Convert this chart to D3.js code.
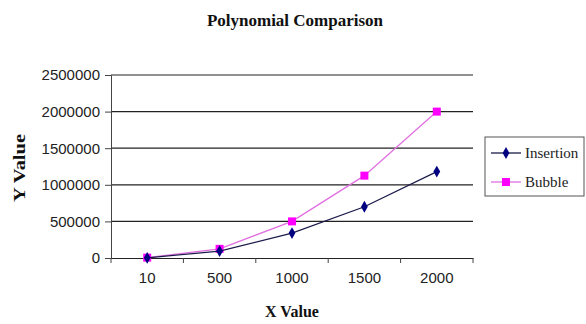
<!DOCTYPE html>
<html lang="en">
<head>
    <meta charset='utf-8'>
    <title>Polynomial Comparison</title>
    <style>
        body{
            margin: 0;
            background: #fff;
        }
        .tick text {
            font-family: "Liberation Sans", Arial, sans-serif;
            font-size: 15px;
            fill: #222;
        }
        .ttl {
            font-family: "Liberation Serif", "Times New Roman", serif;
            font-weight: bold;
            fill: #111;
        }
    </style>
</head>
<body>
<div id="chart"></div>
<script src='https://cdn.jsdelivr.net/npm/d3@7/dist/d3.min.js'></script>
<script>
    var width = 586, height = 324;

    // data
    var categories = ["10", "500", "1000", "1500", "2000"];
    var insertion = [2000, 95000, 340000, 700000, 1180000];
    var bubble = [5000, 125000, 500000, 1125000, 2000000];
    var yTicks = [0, 500000, 1000000, 1500000, 2000000, 2500000];
    var seriesNames = ["Insertion", "Bubble"];
    var colors = ["#000080", "#ff00ff"];

    var plotL = 111, plotR = 473, plotT = 75, plotB = 258;

    var svg = d3.select("#chart").append("svg")
        .attr("width", width).attr("height", height);

    var x = d3.scaleBand().domain(categories).range([plotL, plotR]);
    var y = d3.scaleLinear().domain([0, 2500000]).range([plotB, plotT]);

    // gridlines
    svg.append("g")
        .selectAll("line")
        .data(yTicks.slice(1)).enter()
        .append("line")
        .attr("x1", plotL).attr("x2", plotR)
        .attr("y1", function(d){ return y(d); })
        .attr("y2", function(d){ return y(d); })
        .attr("stroke", "#222")
        .attr("stroke-width", 1.2);

    // y axis
    var yAxis = svg.append("g")
        .attr("transform", "translate(" + plotL + ",0)")
        .call(d3.axisLeft(y).tickValues(yTicks).tickFormat(d3.format("d")).tickSize(6).tickPadding(5));
    yAxis.select(".domain").attr("stroke", "#444");
    yAxis.selectAll(".tick line").attr("stroke", "#444");

    // x axis, ticks between categories
    var xAxis = svg.append("g")
        .attr("transform", "translate(0," + plotB + ")")
        .call(d3.axisBottom(x).tickSize(0).tickPadding(14));
    xAxis.select(".domain").attr("stroke", "#222").attr("stroke-width", 1.2);
    xAxis.selectAll(".sep")
        .data(d3.range(categories.length + 1)).enter()
        .append("line")
        .attr("class", "sep")
        .attr("x1", function(i){ return plotL + i * x.bandwidth(); })
        .attr("x2", function(i){ return plotL + i * x.bandwidth(); })
        .attr("y1", 0).attr("y2", 5)
        .attr("stroke", "#444");

    function cx(d, i){ return x(categories[i]) + x.bandwidth() / 2; }

    var line = d3.line()
        .x(function(d, i){ return cx(d, i); })
        .y(function(d){ return y(d); });

    // bubble series
    svg.append("path")
        .datum(bubble)
        .attr("d", line)
        .attr("fill", "none")
        .attr("stroke", "#e070e0")
        .attr("stroke-width", 1.3);
    svg.selectAll(".bub")
        .data(bubble).enter()
        .append("rect")
        .attr("class", "bub")
        .attr("x", function(d, i){ return cx(d, i) - 4; })
        .attr("y", function(d){ return y(d) - 4; })
        .attr("width", 8).attr("height", 8)
        .attr("fill", colors[1]);

    // insertion series
    svg.append("path")
        .datum(insertion)
        .attr("d", line)
        .attr("fill", "none")
        .attr("stroke", "#1a1a4a")
        .attr("stroke-width", 1.2);
    var diamond = d3.symbol().type(d3.symbolDiamond).size(40);
    svg.selectAll(".ins")
        .data(insertion).enter()
        .append("path")
        .attr("class", "ins")
        .attr("d", diamond)
        .attr("transform", function(d, i){ return "translate(" + cx(d, i) + "," + y(d) + ")"; })
        .attr("fill", colors[0]);

    // titles
    svg.append("text")
        .attr("class", "ttl")
        .attr("x", 295).attr("y", 26)
        .attr("text-anchor", "middle")
        .style("font-size", "17px")
        .text("Polynomial Comparison");
    svg.append("text")
        .attr("class", "ttl")
        .attr("x", 292).attr("y", 317)
        .attr("text-anchor", "middle")
        .style("font-size", "16px")
        .text("X Value");
    svg.append("text")
        .attr("class", "ttl")
        .attr("transform", "translate(25,168) rotate(-90)")
        .attr("text-anchor", "middle")
        .attr("textLength", 68)
        .attr("lengthAdjust", "spacingAndGlyphs")
        .style("font-size", "16px")
        .text("Y Value");

    // legend
    var legend = svg.append("g").attr("transform", "translate(485,137)");
    legend.append("rect")
        .attr("width", 99).attr("height", 59)
        .attr("fill", "#fff")
        .attr("stroke", "#555");
    var items = legend.selectAll(".item")
        .data(seriesNames).enter()
        .append("g")
        .attr("class", "item")
        .attr("transform", function(d, i){ return "translate(0," + (16 + i * 29) + ")"; });
    items.append("line")
        .attr("x1", 6).attr("x2", 36)
        .attr("stroke", function(d, i){ return i === 0 ? "#1a1a4a" : "#e070e0"; })
        .attr("stroke-width", 1.3);
    items.append("path")
        .attr("d", function(d, i){
            return d3.symbol().type(i === 0 ? d3.symbolDiamond : d3.symbolSquare).size(i === 0 ? 40 : 64)();
        })
        .attr("transform", "translate(21,0)")
        .attr("fill", function(d, i){ return colors[i]; });
    items.append("text")
        .attr("x", 40).attr("y", 5)
        .style("font-family", "'Liberation Serif', 'Times New Roman', serif")
        .style("font-size", "15px")
        .style("fill", "#222")
        .text(function(d){ return d; });
</script>
</body>
</html>
